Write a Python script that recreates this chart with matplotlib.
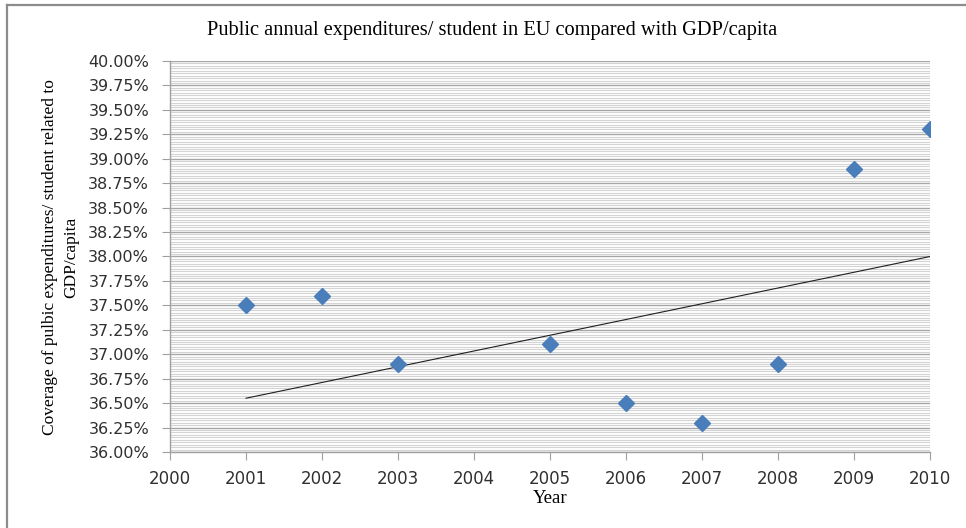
import matplotlib.pyplot as plt
from matplotlib.lines import Line2D
from matplotlib.ticker import MultipleLocator, FuncFormatter

# dados (valores em %)
anos = [2001, 2002, 2003, 2005, 2006, 2007, 2008, 2009, 2010]
cobertura = [37.50, 37.60, 36.90, 37.10, 36.50, 36.30, 36.90, 38.90, 39.30]

# linha de tendência (extremos)
anos_tendencia = [2001, 2010]
valores_tendencia = [36.55, 38.00]

titulo = "Public annual expenditures/ student in EU compared with GDP/capita"
rotulo_y = "Coverage of pulbic expenditures/ student related to\nGDP/capita"
rotulo_x = "Year"

serif = ['Liberation Serif', 'DejaVu Serif']
sans = ['DejaVu Sans']

fig = plt.figure(figsize=(9.66, 5.28), dpi=100)
ax = fig.add_axes([0.176, 0.144, 0.787, 0.7405])

# moldura externa (só topo e esquerda visíveis)
fig.add_artist(Line2D([7 / 966, 7 / 966], [0, 1 - 5 / 528], transform=fig.transFigure,
                      color='#8c8c8c', lw=1.6))
fig.add_artist(Line2D([7 / 966, 1], [1 - 5 / 528, 1 - 5 / 528], transform=fig.transFigure,
                      color='#8c8c8c', lw=1.6))

ax.plot(anos_tendencia, valores_tendencia, color='#202020', lw=0.8, zorder=3)
ax.plot(anos, cobertura, linestyle='none', marker='D', markersize=8,
        color='#4a7ebb', markeredgecolor='#4a7ebb', zorder=4)

ax.set_xlim(2000, 2010)
ax.set_ylim(36.0, 40.0)
ax.xaxis.set_major_locator(MultipleLocator(1))
ax.yaxis.set_major_locator(MultipleLocator(0.25))
ax.yaxis.set_minor_locator(MultipleLocator(0.025))
ax.yaxis.set_major_formatter(FuncFormatter(lambda v, p: '%.2f%%' % v))

ax.grid(True, which='major', axis='y', color='#a6a6a6', lw=1.0)
ax.grid(True, which='minor', axis='y', color='#d4d4d4', lw=0.8)
ax.set_axisbelow(True)

for lado in ['top', 'right']:
    ax.spines[lado].set_visible(False)
for lado in ['left', 'bottom']:
    ax.spines[lado].set_color('#a0a0a0')
    ax.spines[lado].set_linewidth(1.0)

ax.tick_params(axis='both', which='major', direction='out', length=6, color='#a0a0a0',
               labelcolor='#303030')
ax.tick_params(axis='y', which='minor', length=0)
ax.tick_params(axis='y', pad=9)
ax.tick_params(axis='x', pad=7)
for t in ax.get_yticklabels():
    t.set_family(sans)
    t.set_fontsize(11.5)
for t in ax.get_xticklabels():
    t.set_family(sans)
    t.set_fontsize(12)

fig.text(0.509, 0.943, titulo, ha='center', va='center', family=serif, fontsize=14.7)
fig.text(0.063, 0.513, rotulo_y, ha='center', va='center', rotation=90,
         family=serif, fontsize=12.5, linespacing=1.45)
fig.text(0.569, 0.056, rotulo_x, ha='center', va='center', family=serif, fontsize=13.5)

fig.savefig('out.png', dpi=100)
